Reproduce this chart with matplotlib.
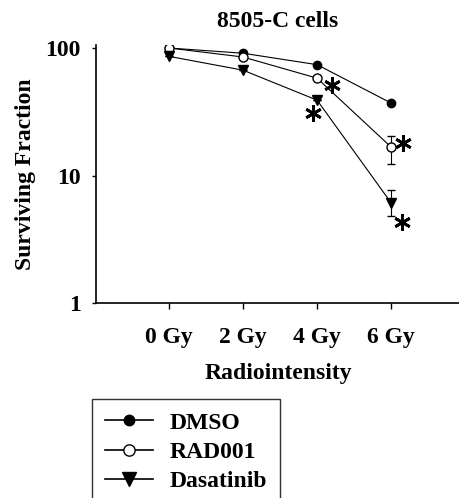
import matplotlib
matplotlib.use('Agg')
import matplotlib.pyplot as plt
from matplotlib.ticker import FixedLocator, NullLocator

plt.rcParams['font.family'] = ['Liberation Serif', 'DejaVu Serif']
plt.rcParams['font.weight'] = 'bold'

# datos
dosis = [0, 2, 4, 6]
etiquetas = ['0 Gy', '2 Gy', '4 Gy', '6 Gy']
dmso = [100, 91, 74, 37]
rad001 = [100, 85, 58, 16.7]
rad001_err_inf = [0, 0, 0, 4.4]
rad001_err_sup = [0, 0, 0, 3.7]
dasatinib = [86, 67, 39, 6.1]
dasatinib_err_inf = [0, 0, 0, 1.3]
dasatinib_err_sup = [0, 0, 0, 1.6]

# asteriscos de significancia (x, y)
ast_x = [4.41, 3.89, 6.32, 6.30]
ast_y = [51, 31, 18, 4.3]

fs = 17

fig = plt.figure(figsize=(4.6, 4.98), dpi=100)
ax = fig.add_axes([96/460, 1-303/498, 364/460, 257.7/498])

# lineas con marcadores
ax.plot(dosis, dmso, '-o', color='black', mfc='black', ms=6, lw=0.8, label='DMSO')
ax.plot(dosis, rad001, '-o', color='black', mfc='white', mec='black', ms=6.5,
        lw=0.8, label='RAD001')
ax.plot(dosis, dasatinib, '-v', color='black', mfc='black', ms=7.5, lw=0.8,
        label='Dasatinib')

# barras de error
ax.errorbar(dosis, rad001, yerr=[rad001_err_inf, rad001_err_sup], fmt='none',
            ecolor='black', elinewidth=0.8, capsize=3, zorder=1)
ax.errorbar(dosis, dasatinib, yerr=[dasatinib_err_inf, dasatinib_err_sup],
            fmt='none', ecolor='black', elinewidth=0.8, capsize=3, zorder=1)

# asteriscos
ax.plot(ast_x, ast_y, linestyle='none', marker=(6, 2, 0), ms=12, mew=2.0,
        color='black', clip_on=False)

ax.set_yscale('log')
ax.set_ylim(1, 105)
ax.set_xlim(-1.97, 7.86)
ax.yaxis.set_major_locator(FixedLocator([1, 10, 100]))
ax.yaxis.set_minor_locator(NullLocator())
ax.set_yticklabels(['1', '10', '100'])
ax.set_xticks(dosis)
ax.set_xticklabels(etiquetas)

ax.spines['top'].set_visible(False)
ax.spines['right'].set_visible(False)
ax.spines['left'].set_linewidth(1.2)
ax.spines['bottom'].set_linewidth(1.2)
ax.tick_params(axis='x', length=4, width=1, pad=13, labelsize=fs)
ax.tick_params(axis='y', length=3, width=1, pad=8, labelsize=fs)

ax.set_title('8505-C cells', fontsize=fs, fontweight='bold', pad=13)
ax.set_xlabel('Radiointensity', fontsize=fs, fontweight='bold', labelpad=11)
ax.set_ylabel('Surviving Fraction', fontsize=fs, fontweight='bold', labelpad=7)

leg = fig.legend(loc='upper left', bbox_to_anchor=(92/460, 1-399/498),
                 fontsize=fs, frameon=True, fancybox=False, edgecolor='black',
                 handlelength=2.05, handletextpad=0.7, labelspacing=0.33,
                 borderpad=0.55, borderaxespad=0, markerscale=1.25)
leg.get_frame().set_linewidth(1)
for linea in leg.get_lines():
    linea.set_linewidth(1.2)

plt.savefig('out.png', dpi=100)
